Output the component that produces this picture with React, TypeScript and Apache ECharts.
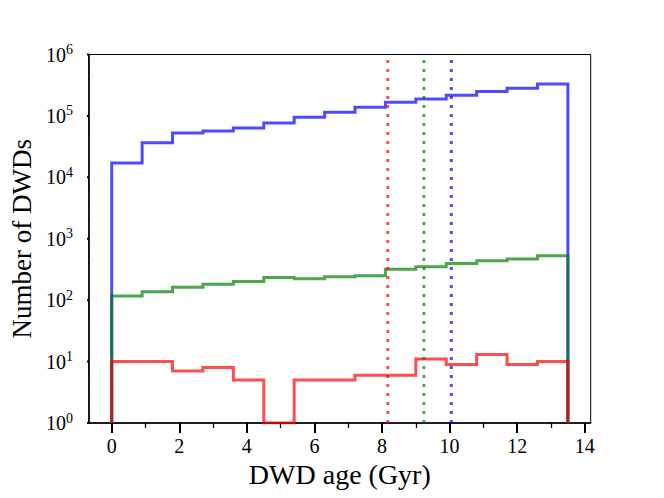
import React, { useEffect, useRef } from "react";
import * as echarts from "echarts";

const binEdges = [0, 0.9, 1.8, 2.7, 3.6, 4.5, 5.4, 6.3, 7.2, 8.1, 9.0, 9.9, 10.8, 11.7, 12.6, 13.5];
const blueCounts = [17100, 36700, 52800, 57000, 63700, 77000, 95000, 115000, 138000, 167000, 189000, 217000, 249000, 283000, 332000];
const greenCounts = [117, 137, 163, 182, 201, 233, 224, 241, 250, 320, 349, 394, 440, 468, 529];
const redCounts = [10, 10, 7, 8, 5, 1, 5, 5, 6, 6, 11, 9, 13, 9, 10];
const medianAges = { red: 8.17, green: 9.24, blue: 10.05 };

const xMajorTicks = [0, 2, 4, 6, 8, 10, 12, 14];
const xMinorTicks = [1, 3, 5, 7, 9, 11, 13];
const yMajorTicks = [1, 10, 100, 1000, 10000, 100000, 1000000];
const yMinorTicks: number[] = [];
[1, 10, 100, 1000, 10000, 100000].forEach((d) => {
  [2, 3, 4, 5, 6, 7, 8, 9].forEach((k) => yMinorTicks.push(k * d));
});

const X_MIN = -0.675;
const X_MAX = 14.175;
const Y_MIN = 1;
const Y_MAX = 1000000;

const GRID = { left: 86.5, right: 73.3, top: 54.5, bottom: 75 };
const CHART_W = 664;
const PX_PER_X = (CHART_W - GRID.left - GRID.right) / (X_MAX - X_MIN);

const FONT = "Liberation Serif";

function stepPoints(counts: number[]) {
  const pts: number[][] = [[binEdges[0], Y_MIN]];
  counts.forEach((c, i) => {
    pts.push([binEdges[i], c]);
    pts.push([binEdges[i + 1], c]);
  });
  pts.push([binEdges[binEdges.length - 1], Y_MIN]);
  return pts;
}

function stepSeries(name: string, color: string, counts: number[]) {
  return {
    name,
    type: "line",
    data: stepPoints(counts),
    showSymbol: false,
    symbol: "none",
    lineStyle: { color, width: 3, opacity: 0.7, join: "miter" },
    itemStyle: { color },
    z: 3,
  };
}

function vline(name: string, color: string, x: number) {
  return {
    name,
    type: "line",
    data: [
      [x, Y_MIN],
      [x, Y_MAX],
    ],
    showSymbol: false,
    symbol: "none",
    lineStyle: { color, width: 3, opacity: 0.7, type: [3, 6] },
    z: 4,
  };
}

// y-axis tick marks (log positions come from the log axis itself)
function yTickSeries(values: number[], lengthPx: number, width: number, tag: string) {
  const dx = lengthPx / PX_PER_X;
  return values.map((v) => ({
    name: `${tag}-${v}`,
    type: "line",
    clip: false,
    silent: true,
    showSymbol: false,
    symbol: "none",
    data: [
      [X_MIN - dx, v],
      [X_MIN, v],
    ],
    lineStyle: { color: "#000", width, cap: "butt" },
    z: 10,
  }));
}

export default function App() {
  const ref = useRef<HTMLDivElement>(null);
  useEffect(() => {
    if (!ref.current) return;
    const chart = echarts.init(ref.current, null, { renderer: "svg" });
    const option: any = {
      animation: false,
      backgroundColor: "#fff",
      textStyle: { fontFamily: FONT },
      grid: {
        ...GRID,
        show: true,
        borderColor: "#000",
        borderWidth: 1,
        backgroundColor: "transparent",
      },
      xAxis: [
        {
          type: "value",
          min: X_MIN,
          max: X_MAX,
          name: "DWD age (Gyr)",
          nameLocation: "middle",
          nameGap: 33,
          nameTextStyle: { fontFamily: FONT, fontSize: 28, color: "#000" },
          axisLine: { show: true, onZero: false, lineStyle: { color: "#000", width: 1.5 } },
          axisTick: {
            show: true,
            inside: false,
            length: 10,
            customValues: xMajorTicks,
            lineStyle: { color: "#000", width: 2 },
          },
          axisLabel: {
            customValues: xMajorTicks,
            margin: 13,
            fontFamily: FONT,
            fontSize: 20,
            color: "#000",
          },
          splitLine: { show: false },
        },
        {
          type: "value",
          min: X_MIN,
          max: X_MAX,
          position: "bottom",
          axisLine: { show: false, onZero: false },
          axisTick: {
            show: true,
            length: 5,
            customValues: xMinorTicks,
            lineStyle: { color: "#000", width: 1.3 },
          },
          axisLabel: { show: false },
          splitLine: { show: false },
        },
      ],
      yAxis: [
        {
          type: "log",
          logBase: 10,
          min: Y_MIN,
          max: Y_MAX,
          name: "Number of DWDs",
          nameLocation: "middle",
          nameGap: 46,
          nameRotate: 90,
          nameTextStyle: { fontFamily: FONT, fontSize: 27, color: "#000" },
          axisLine: { show: true, onZero: false, lineStyle: { color: "#000", width: 1.5 } },
          axisTick: { show: false },
          axisLabel: {
            customValues: yMajorTicks,
            margin: 16,
            formatter: (v: number) => `{b|10}{s|${Math.round(Math.log10(v))}}`,
            rich: {
              b: { fontFamily: FONT, fontSize: 20, color: "#000" },
              s: { fontFamily: FONT, fontSize: 14, color: "#000", padding: [0, 0, 10, 0] },
            },
          },
          splitLine: { show: false },
        },
      ],
      series: [
        stepSeries("all", "#0000ff", blueCounts),
        stepSeries("mid", "#008000", greenCounts),
        stepSeries("low", "#ff0000", redCounts),
        vline("median low", "#ff0000", medianAges.red),
        vline("median mid", "#008000", medianAges.green),
        vline("median all", "#0000ff", medianAges.blue),
        ...yTickSeries(yMajorTicks, 10, 2, "ymaj"),
        ...yTickSeries(yMinorTicks, 5, 1.3, "ymin"),
      ],
    };
    chart.setOption(option);
    return () => chart.dispose();
  }, []);
  return <div ref={ref} style={{ width: 664, height: 498, position: "absolute", left: 0, top: 0 }} />;
}
